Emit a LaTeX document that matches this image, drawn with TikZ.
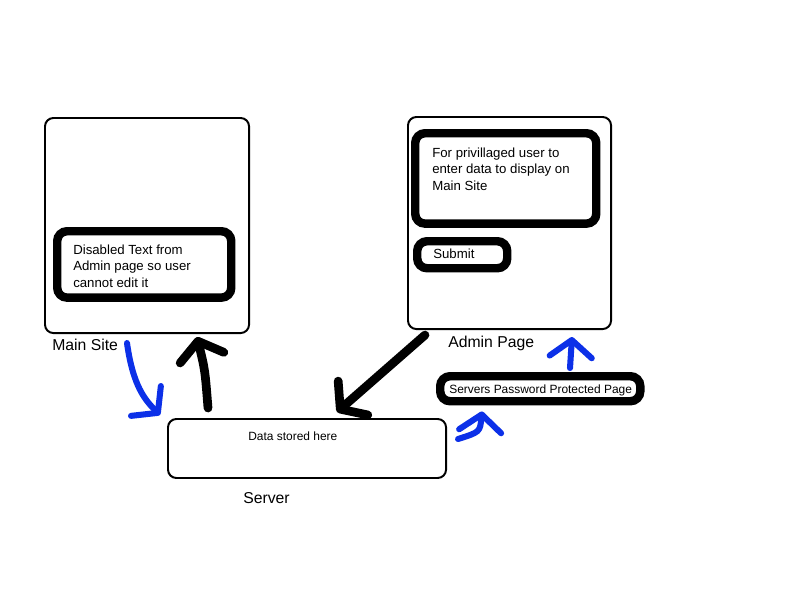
\documentclass[tikz,border=0pt]{standalone}
\usepackage{fontspec}
\setmainfont{Liberation Sans}
\usetikzlibrary{arrows.meta,positioning,calc}
\definecolor{inkblue}{RGB}{12,48,232}
\definecolor{inkblack}{RGB}{0,0,0}

\begin{document}
\begin{tikzpicture}[x=0.025cm, y=-0.025cm,
    page/.style={draw, line width=1.4pt, rounded corners=6pt, anchor=north west, inner sep=0pt},
    field/.style={draw, line width=6pt, rounded corners=7pt, anchor=north west, inner sep=0pt},
    txt/.style={inner sep=0pt, anchor=north west, align=left, font=\fontsize{9.4}{11.7}\selectfont},
    smalltxt/.style={inner sep=0pt, anchor=base west, font=\fontsize{8.5}{10}\selectfont},
    caption/.style={inner sep=0pt, anchor=base west, font=\fontsize{11.2}{13}\selectfont},
    blackpen/.style={draw=inkblack, line width=6.2pt, line cap=round, line join=round,
      -{Straight Barb[length=12pt, width=32pt, line cap=round, line join=round]}},
    bluepen/.style={draw=inkblue, line width=4.3pt, line cap=round, line join=round,
      -{Straight Barb[length=12pt, width=30pt, line cap=round, line join=round]}}]
  \fill[white] (0,0) rectangle (800,600);
  \useasboundingbox (0,0) rectangle (800,600);

  % main site
  \node[page, minimum width=5.1cm, minimum height=5.375cm] (mainsite) at (44,117) {};
  \node[field, minimum width=4.35cm, minimum height=1.66cm] (disabled) at (53,227) {};
  \node[txt] (disabledtxt) at ($(disabled.north west)+(20,17.5)$)
    {Disabled Text from\\Admin page so user\\cannot edit it};
  \node[caption] (mainlbl) at ($(mainsite.south west)+(8,16)$) {Main Site};

  % admin page
  \node[page, minimum width=5.075cm, minimum height=5.3cm] (admin) at (407,116) {};
  \node[field, minimum width=4.525cm, minimum height=2.26cm] (entry) at (411,129) {};
  \node[txt] (entrytxt) at ($(entry.north west)+(21,18.5)$)
    {For privillaged user to\\enter data to display on\\Main Site};
  \node[field, minimum width=2.25cm, minimum height=0.675cm] (submit) at (413,237) {};
  \node[txt] (submittxt) at ($(submit.north west)+(20,11.5)$) {Submit};
  \node[caption] (adminlbl) at ($(admin.south west)+(41,17)$) {Admin Page};

  % server
  \node[page, minimum width=6.95cm, minimum height=1.475cm] (server) at (167,418) {};
  \node[smalltxt] (servertxt) at ($(server.north west)+(81,22)$) {Data stored here};
  \node[caption] (serverlbl) at ($(server.south west)+(76,25)$) {Server};

  \node[field, minimum width=5cm, minimum height=0.625cm] (protected) at (436,372) {};
  \node[smalltxt] (protectedtxt) at ($(protected.north west)+(13,21)$) {Servers Password Protected Page};

  % hand drawn arrows
  \draw[blackpen] ($(server.north west)+(41,-10)$)
    .. controls ($(server.north west)+(38,-48)$) .. ($(mainsite.south west)+(153,3)$);
  \draw[blackpen] ($(admin.south west)+(18,5)$) -- ($(server.north west)+(170,-6)$);
  \draw[bluepen] ($(mainsite.south west)+(83,9)$)
    .. controls ($(mainsite.south west)+(89,52)$) and ($(server.north west)+(-22,-18)$)
    .. ($(server.north west)+(-7,-3)$);
  \draw[bluepen] ($(protected.north west)+(134,-4)$) -- ($(admin.south west)+(165,7)$);
  \draw[bluepen] ($(server.north east)+(11,21)$)
    .. controls ($(server.north east)+(33,14)$) .. ($(protected.south west)+(46,6)$);
\end{tikzpicture}
\end{document}
